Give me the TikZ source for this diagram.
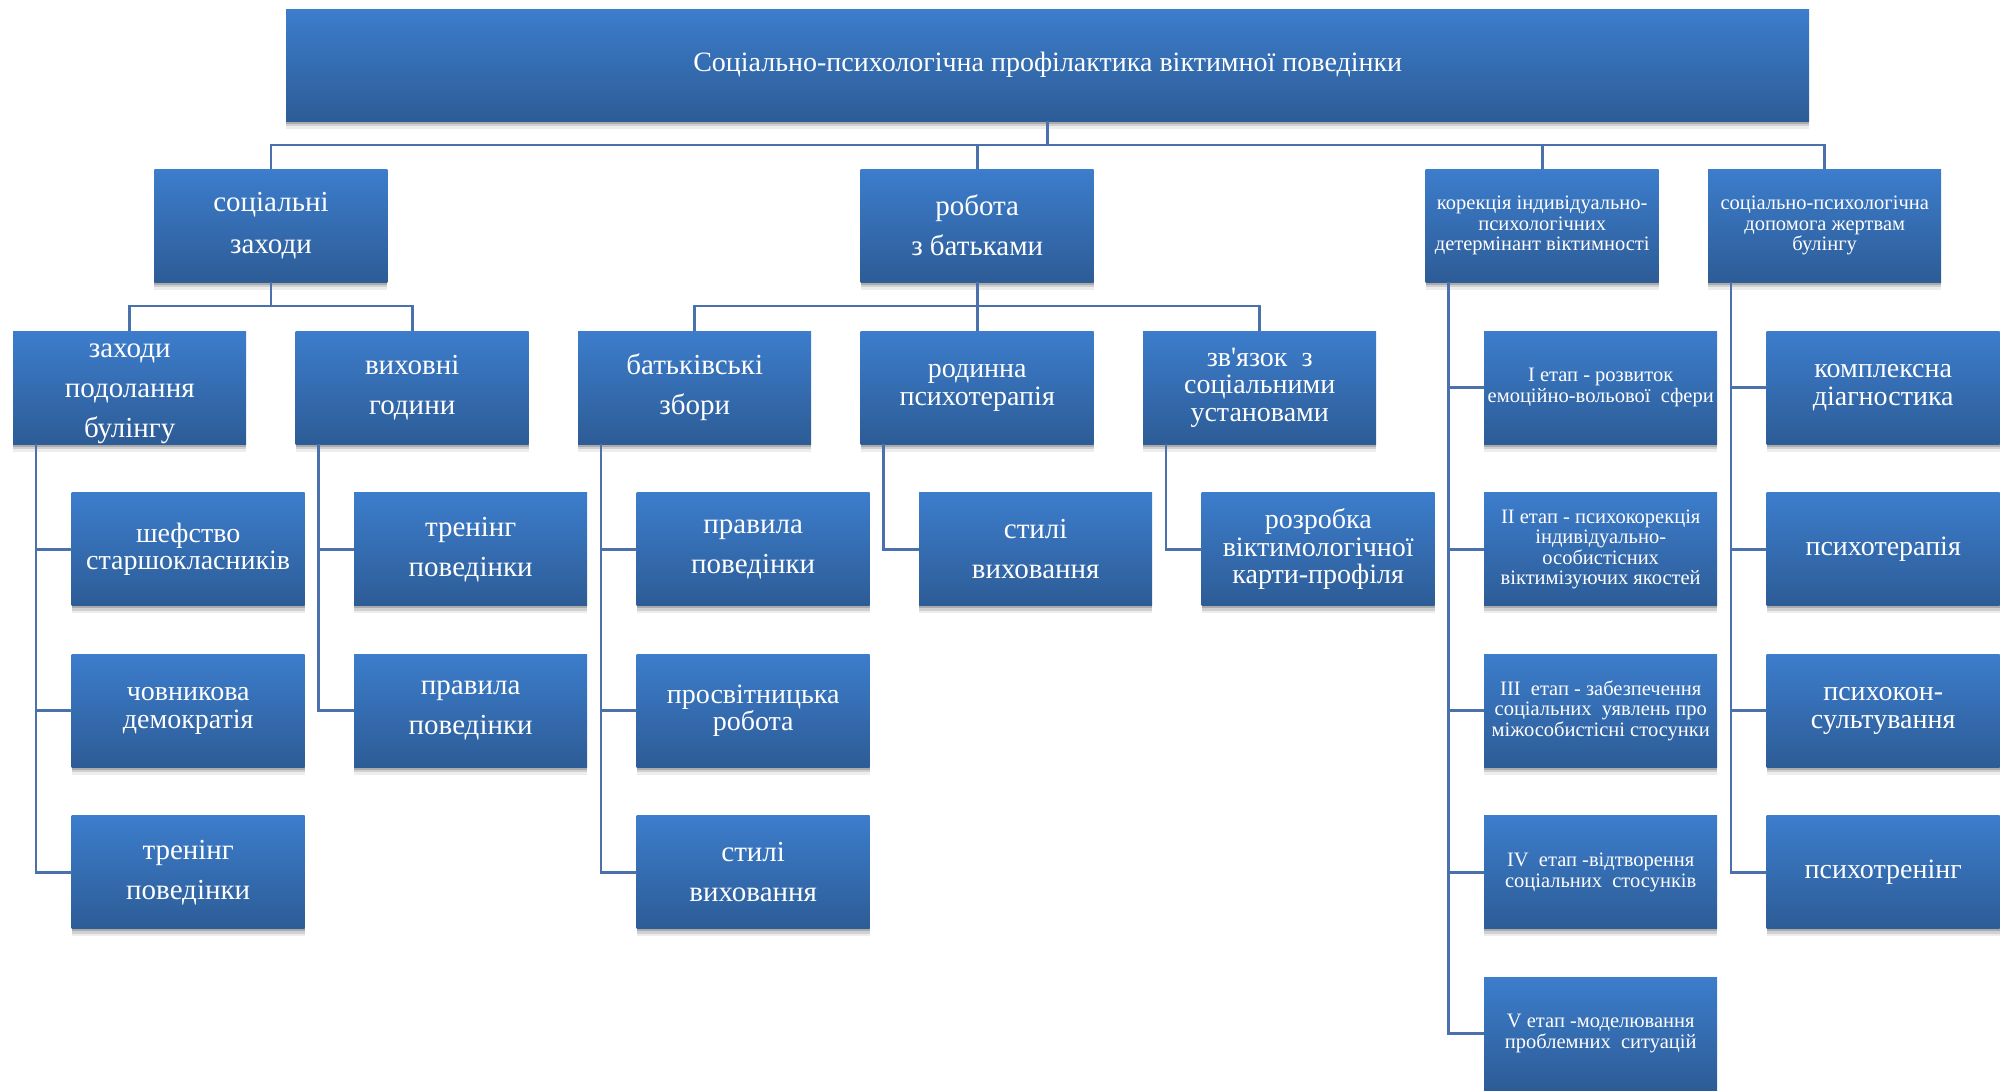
\documentclass[tikz,border=0pt]{standalone}
\usepackage{fontspec}
\setmainfont{Liberation Serif}[Ligatures=TeXOff]
\usetikzlibrary{shadows}
\definecolor{boxtop}{RGB}{60,125,204}
\definecolor{boxbot}{RGB}{45,92,150}
\definecolor{conn}{RGB}{74,113,172}
\begin{document}
\begin{tikzpicture}[x=1pt,y=-1pt,
 blk/.style={rectangle, anchor=north west, minimum width=233pt, minimum height=113pt, inner sep=0pt,
   top color=boxtop, bottom color=boxbot, text=white, align=center,
   drop shadow={shadow xshift=0pt, shadow yshift=-2.5pt, opacity=0.18, fill=black},
   drop shadow={shadow xshift=0pt, shadow yshift=-5pt, opacity=0.12, fill=black},
   drop shadow={shadow xshift=0pt, shadow yshift=-7.5pt, opacity=0.07, fill=black}},
 loose/.style={font=\fontsize{29}{40}\selectfont},
 tight/.style={font=\fontsize{28}{27.5}\selectfont},
 small/.style={font=\fontsize{20.5}{20.5}\selectfont},
 link/.style={draw=conn, line width=2.6pt}]
\useasboundingbox (0,0) rectangle (2000,1090);
% level 0
\node[blk, minimum width=1523pt, minimum height=112pt, font=\fontsize{28}{30}\selectfont] (top) at (286,9) {Соціально-психологічна профілактика віктимної поведінки};
% level 1
\node[blk, loose, font=\fontsize{29}{42}\selectfont] (soc) at (154.25,169) {соціальні\\заходи};
\node[blk, loose] (rob) at (860.5,169) {робота\\з батьками};
\node[blk, small] (kor) at (1425.5,169) {корекція індивідуально-\\психологічних\\детермінант віктимності};
\node[blk, small] (dop) at (1708,169) {соціально-психологічна\\допомога жертвам\\булінгу};
% level 2
\node[blk, loose] (zah) at (13,331) {\rule{0pt}{25pt}заходи\\подолання\\булінгу};
\node[blk, loose] (vyh) at (295.5,331) {виховні\\години};
\node[blk, loose] (bat) at (578,331) {батьківські\\збори};
\node[blk, tight] (rod) at (860.5,331) {родинна\\психотерапія};
\node[blk, tight] (zvy) at (1143,331) {зв'язок\ \ з\\соціальними\\установами};
\node[blk, small] (k1) at (1484,331) {I етап - розвиток\\емоційно-вольової\ \ сфери};
\node[blk, tight] (d1) at (1766.5,331) {комплексна\\діагностика};
% row 2
\node[blk, tight] (z1) at (71.5,492.5) {шефство\\старшокласників};
\node[blk, loose] (v1) at (354,492.5) {тренінг\\поведінки};
\node[blk, loose] (b1) at (636.5,492.5) {правила\\поведінки};
\node[blk, loose] (r1) at (919,492.5) {стилі\\виховання};
\node[blk, tight] (zv1) at (1201.5,492.5) {розробка\\віктимологічної\\карти-профіля};
\node[blk, small] (k2) at (1484,492.5) {II етап - психокорекція\\індивідуально-\\особистісних\\віктимізуючих якостей};
\node[blk, tight] (d2) at (1766.5,492.5) {психотерапія};
% row 3
\node[blk, tight] (z2) at (71.5,654) {човникова\\демократія};
\node[blk, loose] (v2) at (354,654) {правила\\поведінки};
\node[blk, tight] (b2) at (636.5,654) {просвітницька\\робота};
\node[blk, small] (k3) at (1484,654) {III\ \ етап - забезпечення\\соціальних\ \ уявлень про\\міжособистісні стосунки};
\node[blk, tight] (d3) at (1766.5,654) {психокон-\\сультування};
% row 4
\node[blk, loose] (z3) at (71.5,815.5) {тренінг\\поведінки};
\node[blk, loose] (b3) at (636.5,815.5) {стилі\\виховання};
\node[blk, small] (k4) at (1484,815.5) {IV\ \ етап -відтворення\\соціальних\ \ стосунків};
\node[blk, tight] (d4) at (1766.5,815.5) {психотренінг};
% row 5
\node[blk, small] (k5) at (1484,977) {V етап -моделювання\\проблемних\ \ ситуацій};
% connectors
\draw[link] (top.south) -- ++(0,24);
\draw[link] (soc.north) -- ++(0,-24) -| (dop.north);
\draw[link] (rob.north) -- ++(0,-24);
\draw[link] (kor.north) -- ++(0,-24);
\draw[link] (soc.south) -- ++(0,24);
\draw[link] (zah.north) -- ++(0,-25) -| (vyh.north);
\draw[link] (rob.south) -- ++(0,24);
\draw[link] (bat.north) -- ++(0,-25) -| (zvy.north);
\draw[link] (rod.north) -- ++(0,-25);
\foreach \p/\c in {zah/z1,zah/z2,zah/z3,vyh/v1,vyh/v2,bat/b1,bat/b2,bat/b3,rod/r1,zvy/zv1,kor/k1,kor/k2,kor/k3,kor/k4,kor/k5,dop/d1,dop/d2,dop/d3,dop/d4}
  \draw[link] ([xshift=23pt]\p.south west) |- (\c.west);
\end{tikzpicture}
\end{document}
